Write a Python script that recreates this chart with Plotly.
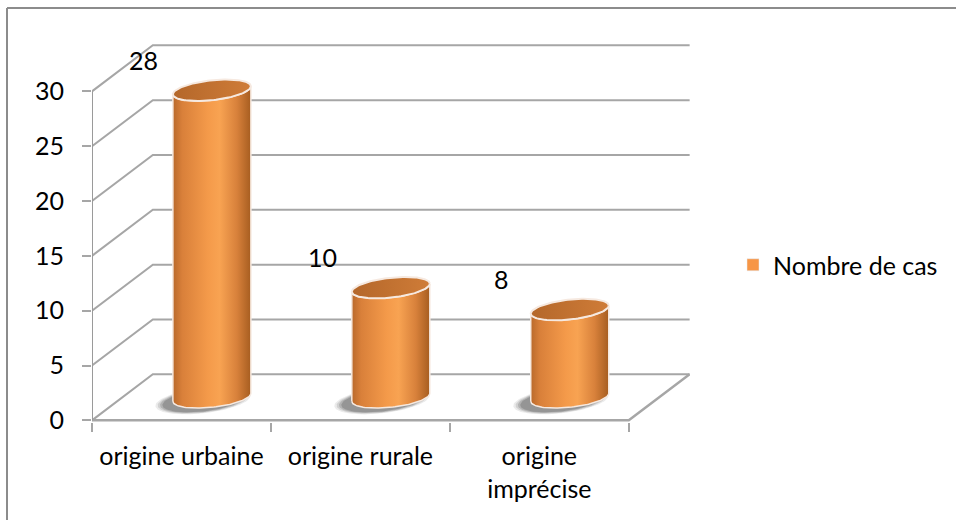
import numpy as np
import plotly.graph_objects as go

# ---- data -------------------------------------------------------------
categories = ["origine urbaine", "origine rurale", "origine imprécise"]
tick_labels = ["origine urbaine", "origine rurale", "origine<br>imprécise"]
nombre_de_cas = [28, 10, 8]
y_ticks = [0, 5, 10, 15, 20, 25, 30]
series_name = "Nombre de cas"

# ---- style ------------------------------------------------------------
FONT = "Lato"
FONT_SIZE = 25
GRID = "#a6a6a6"
DEPTH_X = 0.34   # oblique depth offset, category units
DEPTH_Y = 4.2    # oblique depth offset, value units
RX, RT, RY = 0.218, 0.365, 0.91   # cylinder ellipse radii / tilt
BODY_SCALE = [[0.0, "#b9692b"], [0.12, "#d9803a"], [0.45, "#f49a4a"],
              [0.6, "#f8a352"], [0.82, "#d8813b"], [1.0, "#a65d20"]]
CAP_SCALE = [[0.0, "#b4672a"], [1.0, "#cf7c38"]]
LEGEND_COLOR = "#f79646"

W, H = 956, 520
ML, MR, MT, MB = 92, 266, 43, 98

fig = go.Figure()
n = len(categories)
x0, x1 = -0.5, n - 0.5


def lines(xs, ys, color=GRID, width=2):
    fig.add_trace(go.Scatter(x=xs, y=ys, mode="lines",
                             line=dict(color=color, width=width),
                             hoverinfo="skip", showlegend=False))


# walls: back-wall gridlines and side-wall diagonals
gx, gy = [], []
for v in y_ticks:
    gx += [x0, x0 + DEPTH_X, x1 + DEPTH_X, None]
    gy += [v, v + DEPTH_Y, v + DEPTH_Y, None]
lines(gx, gy)
# floor front / right edges and the front vertical axis edge
lines([x0, x1, x1 + DEPTH_X], [0, 0, DEPTH_Y], width=2.5)
lines([x0, x0], [0, y_ticks[-1]], color="#9a9a9a", width=2)


def ellipse(cx, cy, t, sx=1.0, sy=1.0):
    return (cx + sx * RX * np.cos(t),
            cy + sy * (RT * np.cos(t) + RY * np.sin(t)))


t_full = np.linspace(0, 2 * np.pi, 121)
t_front = np.linspace(np.pi, 2 * np.pi, 61)
base = DEPTH_Y / 2

# soft shadows under the cylinders (stacked translucent ellipses)
for i, v in enumerate(nombre_de_cas):
    cx = i + DEPTH_X / 2
    for s, a in [(1.22, 0.10), (1.16, 0.14), (1.1, 0.2), (1.04, 0.25)]:
        ex, ey = ellipse(cx - 0.05, base - 0.3, t_full, sx=s, sy=s * 1.05)
        fig.add_trace(go.Scatter(x=ex, y=ey, mode="lines", line=dict(width=0),
                                 fill="toself", fillcolor=f"rgba(60,60,60,{a})",
                                 hoverinfo="skip", showlegend=False))

# cylinder bodies and caps
for i, v in enumerate(nombre_de_cas):
    cx = i + DEPTH_X / 2
    top = v + base
    bx, by = ellipse(cx, base, t_front)
    tx, ty = ellipse(cx, top, t_front[::-1])
    fig.add_trace(go.Scatter(
        x=np.concatenate([bx, tx, bx[:1]]), y=np.concatenate([by, ty, by[:1]]),
        mode="lines", line=dict(color="#f6e9e0", width=1.5),
        fill="toself", fillgradient=dict(type="horizontal", colorscale=BODY_SCALE),
        hoverinfo="skip", showlegend=False))
    cxs, cys = ellipse(cx, top, t_full)
    fig.add_trace(go.Scatter(
        x=cxs, y=cys, mode="lines", line=dict(color="#f6e9e0", width=2),
        fill="toself", fillgradient=dict(type="horizontal", colorscale=CAP_SCALE),
        hoverinfo="skip", showlegend=False))

# legend entry for the series
fig.add_trace(go.Bar(x=[None], y=[None], name=series_name,
                     marker_color=LEGEND_COLOR, showlegend=True))

# value labels
for i, v in enumerate(nombre_de_cas):
    fig.add_annotation(x=i - 0.21, y=v + 4.9, text=str(v), showarrow=False,
                       font=dict(family=FONT, size=FONT_SIZE, color="black"))

pw, ph = W - ML - MR, H - MT - MB


def px_to_paper(px, py):
    return (px - ML) / pw, (H - MB - py) / ph


# chart frame (left and top edges)
bx0, by0 = px_to_paper(7, 8)
bx1, by1 = px_to_paper(W + 2, H + 2)
fig.add_shape(type="line", xref="paper", yref="paper", x0=bx0, y0=by0, x1=bx1, y1=by0,
              line=dict(color="#8c8c8c", width=2))
fig.add_shape(type="line", xref="paper", yref="paper", x0=bx0, y0=by0, x1=bx0, y1=by1,
              line=dict(color="#8c8c8c", width=2))

fig.update_layout(
    width=W, height=H,
    margin=dict(l=ML, r=MR, t=MT, b=MB, autoexpand=False),
    paper_bgcolor="white", plot_bgcolor="white",
    font=dict(family=FONT, size=FONT_SIZE, color="black"),
    xaxis=dict(range=[x0, x1 + DEPTH_X + 0.002], tickvals=list(range(n)),
               ticktext=tick_labels, ticks="", showgrid=False, zeroline=False,
               showline=False, ticklabelstandoff=17, fixedrange=True,
               minor=dict(tickvals=[x0 + k for k in range(n + 1)], ticks="outside",
                          ticklen=9, tickwidth=2, tickcolor=GRID, showgrid=False)),
    yaxis=dict(range=[-0.15, 34.41], tickvals=y_ticks, ticks="outside", ticklen=9,
               tickwidth=2, tickcolor=GRID, showgrid=False, zeroline=False,
               showline=False, ticklabelstandoff=13, fixedrange=True),
    legend=dict(x=px_to_paper(733, 0)[0], xanchor="left",
                y=px_to_paper(0, 265)[1], yanchor="middle",
                font=dict(family=FONT, size=FONT_SIZE), bgcolor="rgba(0,0,0,0)"),
    showlegend=True,
)

fig.write_html("out.html")
